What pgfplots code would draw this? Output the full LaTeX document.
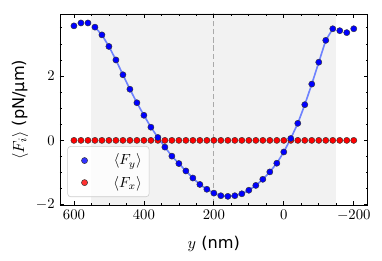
\documentclass[border=0pt]{standalone}
\usepackage{fontspec}
\usepackage{pgfplots}
\pgfplotsset{compat=1.18}
\newfontfamily\dvs{DejaVu Sans}
\definecolor{fitblue}{RGB}{110,130,255}
\definecolor{spangray}{RGB}{242,242,242}
\definecolor{dashgray}{RGB}{170,170,170}
\definecolor{legframe}{RGB}{204,204,204}
\begin{document}
\begin{tikzpicture}
\begin{axis}[
  name=ax,
  scale only axis,
  width=209.4pt, height=130pt,
  x dir=reverse,
  xmin=-240, xmax=640,
  ymin=-2.01, ymax=3.93,
  xtick={-200,0,200,400,600},
  ytick={-2,0,2},
  minor xtick={-200,-150,...,600},
  minor ytick={-2,-1.5,...,3.5},
  tick align=inside,
  major tick length=2.8pt,
  minor tick length=1.5pt,
  tick style={black, line width=0.5pt},
  axis line style={line width=0.6pt},
  axis on top=true,
  xlabel={$y$ {\dvs (nm)}},
  ylabel={$\langle F_i\rangle$ {\dvs (pN/μm)}},
  every axis x label/.style={at={(axis description cs:0.5,-0.23)}, anchor=base, font=\fontsize{11}{13}\selectfont},
  every axis y label/.style={at={(axis description cs:-0.13,0.5)}, anchor=center, rotate=90, font=\fontsize{11}{13}\selectfont},
  legend style={at={(0.024,0.042)}, anchor=south west, draw=legframe, fill=white, fill opacity=0.8, text opacity=1, rounded corners=2pt, inner xsep=3pt, inner ysep=3.1pt, row sep=2pt, font=\fontsize{10}{12}\selectfont},
]
\addplot[fill=spangray, draw=none, forget plot] coordinates {(550,-5) (550,6) (-150,6) (-150,-5)} -- cycle;
\addplot[dashgray, line width=0.8pt, dash pattern=on 3.5pt off 2pt, forget plot] coordinates {(200,-5) (200,6)};
\addplot[fitblue, line width=1.1pt, forget plot] coordinates {
(540,3.52) (520,3.28) (500,2.92) (480,2.50) (460,2.04) (440,1.59) (420,1.17) (400,0.78) (380,0.41) (360,0.09)
(340,-0.21) (320,-0.49) (300,-0.72) (280,-0.95) (260,-1.17) (240,-1.37) (220,-1.52) (200,-1.64) (180,-1.72) (160,-1.74)
(140,-1.72) (120,-1.66) (100,-1.55) (80,-1.40) (60,-1.21) (40,-0.98) (20,-0.71) (0,-0.36) (-20,0.06) (-40,0.53)
(-60,1.11) (-80,1.75) (-100,2.43) (-120,3.11) (-140,3.47)};
\addplot[only marks, mark=*, mark size=2.1pt, mark options={fill=red, draw=black!80, line width=0.3pt}, forget plot] coordinates {
(600,0) (580,0) (560,0) (540,0) (520,0) (500,0) (480,0) (460,0) (440,0) (420,0) (400,0) (380,0) (360,0) (340,0)
(320,0) (300,0) (280,0) (260,0) (240,0) (220,0) (200,0) (180,0) (160,0) (140,0) (120,0) (100,0) (80,0) (60,0)
(40,0) (20,0) (0,0) (-20,0) (-40,0) (-60,0) (-80,0) (-100,0) (-120,0) (-140,0) (-160,0) (-180,0) (-200,0)};
\addplot[only marks, mark=*, mark size=2.1pt, mark options={fill=blue, draw=black!80, line width=0.3pt}, forget plot] coordinates {
(600,3.56) (580,3.65) (560,3.65) (540,3.52) (520,3.28) (500,2.92) (480,2.50) (460,2.04) (440,1.59) (420,1.17)
(400,0.78) (380,0.41) (360,0.09) (340,-0.21) (320,-0.49) (300,-0.72) (280,-0.95) (260,-1.17) (240,-1.37) (220,-1.52)
(200,-1.64) (180,-1.72) (160,-1.74) (140,-1.72) (120,-1.66) (100,-1.55) (80,-1.40) (60,-1.21) (40,-0.98) (20,-0.71)
(0,-0.36) (-20,0.06) (-40,0.53) (-60,1.11) (-80,1.75) (-100,2.43) (-120,3.11) (-140,3.47) (-160,3.41) (-180,3.35) (-200,3.47)};
\addlegendimage{legend image code/.code={\path[draw=none, fill=none] (0pt,0pt) -- (17pt,0pt); \node[circle, fill=blue, draw=black!80, line width=0.3pt, inner sep=0pt, minimum size=4.2pt] at (8.5pt,0pt) {};}}
\addlegendentry{\makebox[28.4pt][r]{$\langle F_y\rangle$}}
\addlegendimage{legend image code/.code={\path[draw=none, fill=none] (0pt,0pt) -- (17pt,0pt); \node[circle, fill=red, draw=black!80, line width=0.3pt, inner sep=0pt, minimum size=4.2pt] at (8.5pt,0pt) {};}}
\addlegendentry{\makebox[28.4pt][r]{$\langle F_x\rangle$}}
\end{axis}
\pgfresetboundingbox
\path ([shift={(-40.8pt,-37.4pt)}]ax.south west) rectangle ([shift={(9.7pt,9.5pt)}]ax.north east);
\end{tikzpicture}
\end{document}
